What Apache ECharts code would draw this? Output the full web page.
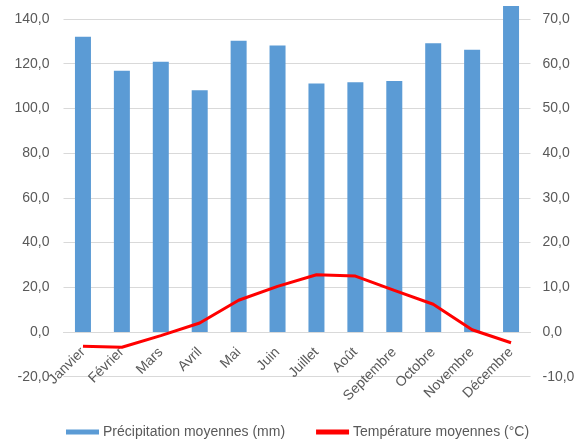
<!DOCTYPE html>
<html>
<head>
<meta charset="utf-8">
<script src="https://cdn.jsdelivr.net/npm/echarts@6/dist/echarts.min.js"></script>
<style>
  html, body { margin: 0; padding: 0; background: #fff; }
  #chart { width: 588px; height: 439px; }
</style>
</head>
<body>
<div id="chart"></div>
<script>
// données
var mois = ['Janvier', 'Février', 'Mars', 'Avril', 'Mai', 'Juin', 'Juillet', 'Août', 'Septembre', 'Octobre', 'Novembre', 'Décembre'];
var precipitation = [132.1, 116.9, 120.9, 108.1, 130.3, 128.1, 111.1, 111.7, 112.3, 129.1, 126.3, 145.8];
var temperature = [-3.2, -3.4, -0.8, 2.0, 7.1, 10.2, 12.8, 12.5, 9.3, 6.2, 0.5, -2.4];

var gris = '#595959';
var fonte = 'Liberation Sans';

function fmt(v) {
    return v.toFixed(1).replace('.', ',');
}

var gridTop = 19, gridBottom = 62.3;
var hauteur = 439 - gridTop - gridBottom;
// l'axe des catégories est remonté jusqu'à la ligne du zéro (-20 -> 0 sur l'axe de gauche)
var decalage = -hauteur * 20 / 160;

var myChart = echarts.init(document.getElementById('chart'));
var option = {
    animation: false,
    textStyle: { fontFamily: fonte },
    grid: { left: 63.5, right: 57.5, top: gridTop, bottom: gridBottom },
    legend: {
        left: 61,
        top: 420,
        itemWidth: 33,
        itemHeight: 5,
        itemGap: 31,
        textStyle: { color: gris, fontSize: 14, fontFamily: fonte, padding: [0, 0, 0, -1] },
        data: [
            { name: 'Précipitation moyennes (mm)', icon: 'rect' },
            { name: 'Température moyennes (°C)', icon: 'rect' }
        ]
    },
    xAxis: {
        type: 'category',
        data: mois,
        position: 'bottom',
        offset: decalage,
        axisLine: { onZero: false, lineStyle: { color: '#d9d9d9' } },
        axisTick: { show: false },
        axisLabel: { rotate: 45, color: gris, fontSize: 14, margin: 18, interval: 0 }
    },
    yAxis: [{
        type: 'value',
        min: -20,
        max: 140,
        interval: 20,
        axisLine: { show: false },
        axisTick: { show: false },
        splitLine: { lineStyle: { color: '#d9d9d9' } },
        axisLabel: { color: gris, fontSize: 14, margin: 14, formatter: fmt }
    }, {
        type: 'value',
        min: -10,
        max: 70,
        interval: 10,
        axisLine: { show: false },
        axisTick: { show: false },
        splitLine: { show: false },
        axisLabel: { color: gris, fontSize: 14, margin: 12, formatter: fmt }
    }],
    series: [{
        name: 'Précipitation moyennes (mm)',
        type: 'bar',
        data: precipitation,
        barWidth: 16,
        clip: false,
        itemStyle: { color: '#5b9bd5' }
    }, {
        name: 'Température moyennes (°C)',
        type: 'line',
        yAxisIndex: 1,
        data: temperature,
        symbol: 'none',
        z: 3,
        lineStyle: { color: '#ff0000', width: 3 },
        itemStyle: { color: '#ff0000' }
    }]
};
myChart.setOption(option);
</script>
</body>
</html>
